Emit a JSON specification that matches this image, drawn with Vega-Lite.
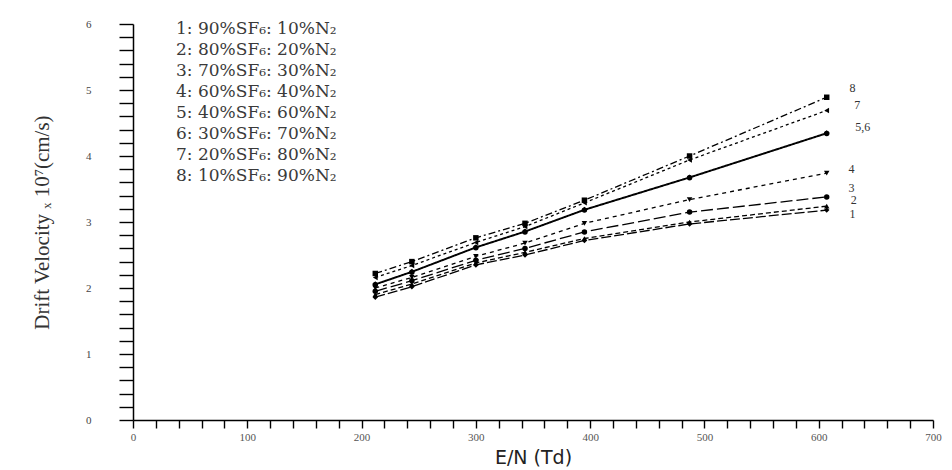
{
  "$schema": "https://vega.github.io/schema/vega-lite/v6.json",
  "width": 800,
  "height": 396,
  "autosize": {"type": "none"},
  "padding": {"left": 133, "top": 24, "right": 19, "bottom": 50},
  "background": "white",
  "config": {"view": {"stroke": null}, "font": "Liberation Serif"},
  "datasets": {
    "pts": [
      {"s": "8: 10%SF₆: 90%N₂", "x": 212, "y": 2.22}, {"s": "8: 10%SF₆: 90%N₂", "x": 244, "y": 2.40}, {"s": "8: 10%SF₆: 90%N₂", "x": 300, "y": 2.76}, {"s": "8: 10%SF₆: 90%N₂", "x": 343, "y": 2.98}, {"s": "8: 10%SF₆: 90%N₂", "x": 395, "y": 3.33}, {"s": "8: 10%SF₆: 90%N₂", "x": 487, "y": 4.00}, {"s": "8: 10%SF₆: 90%N₂", "x": 607, "y": 4.89},
      {"s": "7: 20%SF₆: 80%N₂", "x": 212, "y": 2.16}, {"s": "7: 20%SF₆: 80%N₂", "x": 244, "y": 2.34}, {"s": "7: 20%SF₆: 80%N₂", "x": 300, "y": 2.69}, {"s": "7: 20%SF₆: 80%N₂", "x": 343, "y": 2.93}, {"s": "7: 20%SF₆: 80%N₂", "x": 395, "y": 3.29}, {"s": "7: 20%SF₆: 80%N₂", "x": 487, "y": 3.94}, {"s": "7: 20%SF₆: 80%N₂", "x": 607, "y": 4.69},
      {"s": "6: 30%SF₆: 70%N₂", "x": 212, "y": 2.06}, {"s": "6: 30%SF₆: 70%N₂", "x": 244, "y": 2.25}, {"s": "6: 30%SF₆: 70%N₂", "x": 300, "y": 2.62}, {"s": "6: 30%SF₆: 70%N₂", "x": 343, "y": 2.86}, {"s": "6: 30%SF₆: 70%N₂", "x": 395, "y": 3.19}, {"s": "6: 30%SF₆: 70%N₂", "x": 487, "y": 3.68}, {"s": "6: 30%SF₆: 70%N₂", "x": 607, "y": 4.35},
      {"s": "5: 40%SF₆: 60%N₂", "x": 212, "y": 2.05}, {"s": "5: 40%SF₆: 60%N₂", "x": 244, "y": 2.24}, {"s": "5: 40%SF₆: 60%N₂", "x": 300, "y": 2.61}, {"s": "5: 40%SF₆: 60%N₂", "x": 343, "y": 2.85}, {"s": "5: 40%SF₆: 60%N₂", "x": 395, "y": 3.18}, {"s": "5: 40%SF₆: 60%N₂", "x": 487, "y": 3.67}, {"s": "5: 40%SF₆: 60%N₂", "x": 607, "y": 4.34},
      {"s": "4: 60%SF₆: 40%N₂", "x": 212, "y": 2.00}, {"s": "4: 60%SF₆: 40%N₂", "x": 244, "y": 2.16}, {"s": "4: 60%SF₆: 40%N₂", "x": 300, "y": 2.48}, {"s": "4: 60%SF₆: 40%N₂", "x": 343, "y": 2.68}, {"s": "4: 60%SF₆: 40%N₂", "x": 395, "y": 2.98}, {"s": "4: 60%SF₆: 40%N₂", "x": 487, "y": 3.34}, {"s": "4: 60%SF₆: 40%N₂", "x": 607, "y": 3.74},
      {"s": "3: 70%SF₆: 30%N₂", "x": 212, "y": 1.95}, {"s": "3: 70%SF₆: 30%N₂", "x": 244, "y": 2.11}, {"s": "3: 70%SF₆: 30%N₂", "x": 300, "y": 2.42}, {"s": "3: 70%SF₆: 30%N₂", "x": 343, "y": 2.60}, {"s": "3: 70%SF₆: 30%N₂", "x": 395, "y": 2.85}, {"s": "3: 70%SF₆: 30%N₂", "x": 487, "y": 3.15}, {"s": "3: 70%SF₆: 30%N₂", "x": 607, "y": 3.38},
      {"s": "2: 80%SF₆: 20%N₂", "x": 212, "y": 1.90}, {"s": "2: 80%SF₆: 20%N₂", "x": 244, "y": 2.06}, {"s": "2: 80%SF₆: 20%N₂", "x": 300, "y": 2.38}, {"s": "2: 80%SF₆: 20%N₂", "x": 343, "y": 2.54}, {"s": "2: 80%SF₆: 20%N₂", "x": 395, "y": 2.75}, {"s": "2: 80%SF₆: 20%N₂", "x": 487, "y": 3.00}, {"s": "2: 80%SF₆: 20%N₂", "x": 607, "y": 3.24},
      {"s": "1: 90%SF₆: 10%N₂", "x": 212, "y": 1.86}, {"s": "1: 90%SF₆: 10%N₂", "x": 244, "y": 2.02}, {"s": "1: 90%SF₆: 10%N₂", "x": 300, "y": 2.35}, {"s": "1: 90%SF₆: 10%N₂", "x": 343, "y": 2.50}, {"s": "1: 90%SF₆: 10%N₂", "x": 395, "y": 2.72}, {"s": "1: 90%SF₆: 10%N₂", "x": 487, "y": 2.97}, {"s": "1: 90%SF₆: 10%N₂", "x": 607, "y": 3.18}
    ],
    "endlabels": [
      {"t": "8", "x": 627, "y": 5.03},
      {"t": "7", "x": 631, "y": 4.77},
      {"t": "5,6", "x": 632, "y": 4.44},
      {"t": "4", "x": 626, "y": 3.80},
      {"t": "3", "x": 626, "y": 3.52},
      {"t": "2", "x": 628, "y": 3.33},
      {"t": "1", "x": 627, "y": 3.12}
    ]
  },
  "layer": [
    {
      "data": {"name": "pts"},
      "mark": {"type": "line", "color": "black", "strokeWidth": 1.3},
      "encoding": {
        "x": {
          "field": "x", "type": "quantitative",
          "scale": {"domain": [0, 700], "nice": false},
          "axis": {
            "title": "E/N (Td)", "titleFont": "DejaVu Sans", "titleFontSize": 19, "titleFontWeight": "normal", "titleColor": "#222", "titlePadding": 6,
            "values": [0,20,40,60,80,100,120,140,160,180,200,220,240,260,280,300,320,340,360,380,400,420,440,460,480,500,520,540,560,580,600,620,640,660,680,700],
            "tickCount": 200,
            "labelExpr": "datum.value % 100 === 0 ? format(datum.value, 'd') : ''",
            "labelOverlap": false,
            "grid": false, "domainColor": "black", "domainWidth": 1.5, "tickColor": "black", "tickWidth": 1.4, "tickSize": 8,
            "labelFont": "Liberation Serif", "labelFontSize": 11, "labelColor": "#555", "labelPadding": 3, "labelFlush": false,
            "encode": {"ticks": {"update": {"y2": {"signal": "datum.value % 100 === 0 ? 8 : 5"}}}}
          }
        },
        "y": {
          "field": "y", "type": "quantitative",
          "scale": {"domain": [0, 6], "nice": false},
          "axis": {
            "title": "Drift Velocity ₓ 10⁷(cm/s)", "titleFont": "Liberation Serif", "titleFontSize": 21, "titleFontWeight": "normal", "titleColor": "#333", "titlePadding": 33,
            "values": [0,0.2,0.4,0.6,0.8,1,1.2,1.4,1.6,1.8,2,2.2,2.4,2.6,2.8,3,3.2,3.4,3.6,3.8,4,4.2,4.4,4.6,4.8,5,5.2,5.4,5.6,5.8,6],
            "tickCount": 200,
            "labelExpr": "abs(datum.value - round(datum.value)) < 0.001 ? format(datum.value, 'd') : ''",
            "labelOverlap": false,
            "grid": false, "domainColor": "black", "domainWidth": 1.5, "tickColor": "black", "tickWidth": 1.4, "tickSize": 14,
            "labelFont": "Liberation Serif", "labelFontSize": 11, "labelColor": "#444", "labelPadding": 28,
            "encode": {"ticks": {"update": {"x2": {"signal": "abs(datum.value - round(datum.value)) < 0.001 ? -14 : -7"}}}}
          }
        },
        "strokeDash": {
          "field": "s", "type": "nominal",
          "sort": ["1: 90%SF₆: 10%N₂", "2: 80%SF₆: 20%N₂", "3: 70%SF₆: 30%N₂", "4: 60%SF₆: 40%N₂", "5: 40%SF₆: 60%N₂", "6: 30%SF₆: 70%N₂", "7: 20%SF₆: 80%N₂", "8: 10%SF₆: 90%N₂"],
          "scale": {"range": [[10, 3], [5, 3], [12, 4], [4, 4], [1, 0], [1, 0], [3, 3], [7, 3, 2, 3]]},
          "legend": {
            "title": null, "orient": "none", "legendX": 26, "legendY": -4,
            "labelFont": "DejaVu Serif", "labelFontSize": 17, "labelColor": "#3a3a3a", "labelLimit": 500,
            "symbolSize": 0, "symbolStrokeWidth": 0, "symbolOpacity": 0, "labelOffset": 0,
            "rowPadding": 3, "padding": 0
          }
        }
      }
    },
    {
      "data": {"name": "pts"},
      "mark": {"type": "point", "filled": true, "color": "black", "size": 30, "opacity": 1},
      "encoding": {
        "x": {"field": "x", "type": "quantitative"},
        "y": {"field": "y", "type": "quantitative"},
        "shape": {
          "field": "s", "type": "nominal",
          "sort": ["1: 90%SF₆: 10%N₂", "2: 80%SF₆: 20%N₂", "3: 70%SF₆: 30%N₂", "4: 60%SF₆: 40%N₂", "5: 40%SF₆: 60%N₂", "6: 30%SF₆: 70%N₂", "7: 20%SF₆: 80%N₂", "8: 10%SF₆: 90%N₂"],
          "scale": {"range": ["diamond", "triangle-up", "circle", "triangle-down", "circle", "diamond", "triangle-left", "square"]},
          "legend": null
        }
      }
    },
    {
      "data": {"name": "endlabels"},
      "mark": {"type": "text", "font": "Liberation Serif", "fontSize": 12, "color": "#333", "align": "left", "baseline": "middle"},
      "encoding": {
        "x": {"field": "x", "type": "quantitative"},
        "y": {"field": "y", "type": "quantitative"},
        "text": {"field": "t"}
      }
    }
  ]
}
